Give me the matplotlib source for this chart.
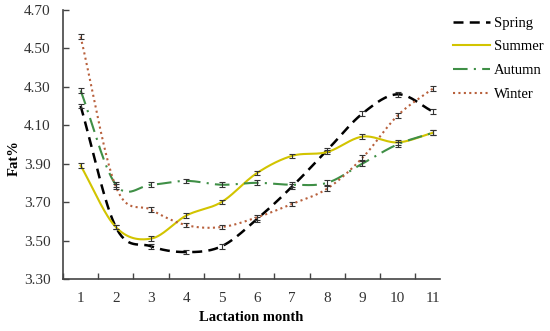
import numpy as np
import matplotlib
matplotlib.use("Agg")
import matplotlib.pyplot as plt

months = [1, 2, 3, 4, 5, 6, 7, 8, 9, 10, 11]
spring = [4.20, 3.57, 3.47, 3.44, 3.47, 3.61, 3.78, 3.97, 4.16, 4.26, 4.17]
summer = [3.89, 3.57, 3.51, 3.63, 3.70, 3.85, 3.94, 3.96, 4.04, 4.01, 4.06]
autumn = [4.28, 3.79, 3.79, 3.81, 3.79, 3.80, 3.79, 3.80, 3.90, 4.00, 4.06]
winter = [4.56, 3.78, 3.66, 3.58, 3.57, 3.62, 3.69, 3.77, 3.93, 4.15, 4.29]
err = [0.012] * 11
yticks = [3.30, 3.50, 3.70, 3.90, 4.10, 4.30, 4.50, 4.70]

plt.rcParams['font.family'] = ['Liberation Serif', 'DejaVu Serif']

def smooth(x, y, n=30):
    # Catmull-Rom style smoothing between the data points (rendering only)
    x = np.asarray(x, float); y = np.asarray(y, float)
    px = np.concatenate([[2*x[0]-x[1]], x, [2*x[-1]-x[-2]]])
    py = np.concatenate([[2*y[0]-y[1]], y, [2*y[-1]-y[-2]]])
    xs, ys = [], []
    for i in range(1, len(px)-2):
        t = np.linspace(0, 1, n, endpoint=False)
        for arr, out in ((px, xs), (py, ys)):
            p0, p1, p2, p3 = arr[i-1], arr[i], arr[i+1], arr[i+2]
            out.append(0.5*((2*p1) + (-p0+p2)*t + (2*p0-5*p1+4*p2-p3)*t**2 + (-p0+3*p1-3*p2+p3)*t**3))
    xs = np.concatenate(xs + [[x[-1]]]); ys = np.concatenate(ys + [[y[-1]]])
    return xs, ys

fig = plt.figure(figsize=(5.5, 3.31), dpi=100)
ax = fig.add_axes([0.1145, 0.157, 0.6855, 0.814])

series = [
    ("Spring", spring, dict(color='black', linestyle=(0, (4, 2.5)), linewidth=1.8)),
    ("Summer", summer, dict(color='#d2c400', linestyle='-', linewidth=1.5)),
    ("Autumn", autumn, dict(color='#3f8f46', linestyle=(0, (7, 3, 1, 3)), linewidth=1.5)),
    ("Winter", winter, dict(color='#b8603c', linestyle=(0, (1, 1.6)), linewidth=1.5)),
]
for name, vals, st in series:
    xs, ys = smooth(months, vals)
    ax.plot(xs, ys, label=name, **st)
    ax.errorbar(months, vals, yerr=err, fmt='none', ecolor='#333333',
                elinewidth=0.8, capsize=2.5, capthick=0.8)

ax.set_xlim(0.5, 11.2)
ax.set_ylim(3.30, 4.70)
ax.set_yticks(yticks)
ax.set_yticklabels([f"{v:.2f}" for v in yticks], fontsize=11)
ax.set_xticks(np.arange(0.5, 11.0, 1.0))
ax.set_xticklabels([])
ax.set_xticks(months, minor=True)
ax.set_xticklabels([str(m) for m in months], minor=True, fontsize=11)
ax.tick_params(axis='x', which='minor', length=0, pad=9)
ax.tick_params(axis='both', which='major', direction='in', length=4, width=1, colors='#444444', labelcolor='#333333')
ax.tick_params(axis='y', which='major', pad=9)
ax.tick_params(axis='x', which='minor', labelcolor='#333333')
for s in ['top', 'right']:
    ax.spines[s].set_visible(False)
for s in ['left', 'bottom']:
    ax.spines[s].set_color('#444444')
    ax.spines[s].set_linewidth(1.2)

ax.set_xlabel("Lactation month", fontsize=10.5, fontweight='bold', labelpad=5)
ax.set_ylabel("Fat%", fontsize=10.5, fontweight='bold')
ax.yaxis.set_label_coords(-0.112, 0.45)

fig.legend(loc='upper left', bbox_to_anchor=(0.8, 0.99), frameon=False,
           fontsize=10.5, handlelength=2.5, handletextpad=0.3, labelspacing=0.72)

fig.savefig("out.png", dpi=100)
